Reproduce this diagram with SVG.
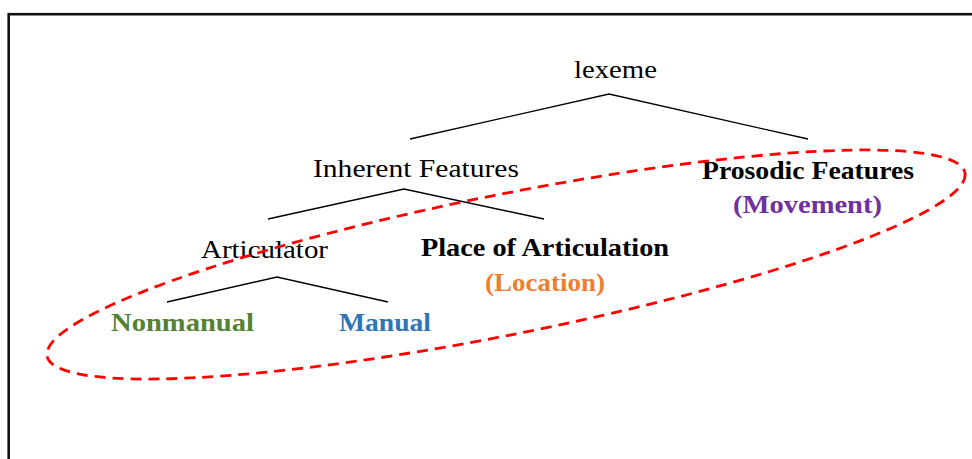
<svg xmlns="http://www.w3.org/2000/svg" width="972" height="459" viewBox="0 0 972 459">
<style>
.reg{font-family:"Liberation Serif","Times New Roman",serif;font-size:25px;fill:#000}
.bold{font-family:"Liberation Serif","Times New Roman",serif;font-size:26px;font-weight:bold}
.edge{stroke:#000;stroke-width:1.3;fill:none}
</style>
<rect x="0" y="0" width="972" height="459" fill="#fff"/>
<rect x="8.7" y="14.2" width="1100" height="600" fill="none" stroke="#111" stroke-width="2.6"/>
<g id="connectors">
<polyline class="edge" points="410,139 609,94 808,139"/>
<polyline class="edge" points="268,219 404,189 544,219"/>
<polyline class="edge" points="167,302 277,277 388,302"/>
</g>
<g id="lexeme"><text class="reg" x="574" y="78" textLength="83" lengthAdjust="spacingAndGlyphs">lexeme</text></g>
<g id="inherent"><text class="reg" x="313" y="177" textLength="206" lengthAdjust="spacingAndGlyphs">Inherent Features</text></g>
<g id="articulator"><text class="reg" x="201" y="258" textLength="127" lengthAdjust="spacingAndGlyphs">Articulator</text></g>
<g id="nonmanual"><text class="bold" x="111" y="331" fill="#548235" textLength="143" lengthAdjust="spacingAndGlyphs">Nonmanual</text></g>
<g id="manual"><text class="bold" x="339" y="331" fill="#2E75B6" textLength="92" lengthAdjust="spacingAndGlyphs">Manual</text></g>
<g id="place">
<text class="bold" x="421" y="256" fill="#000" textLength="248" lengthAdjust="spacingAndGlyphs">Place of Articulation</text>
<text class="bold" x="485" y="291" fill="#ED7D31" textLength="120" lengthAdjust="spacingAndGlyphs">(Location)</text>
</g>
<g id="prosodic">
<text class="bold" x="702" y="179" fill="#000" textLength="212" lengthAdjust="spacingAndGlyphs">Prosodic Features</text>
<text class="bold" x="733" y="213" fill="#7030A0" textLength="149" lengthAdjust="spacingAndGlyphs">(Movement)</text>
</g>
<g id="highlight">
<ellipse cx="506" cy="264.5" rx="468" ry="70" transform="rotate(-11.3 506 264.5)" fill="none" stroke="#FF0000" stroke-width="2.8" stroke-dasharray="11 7"/>
</g>
</svg>
